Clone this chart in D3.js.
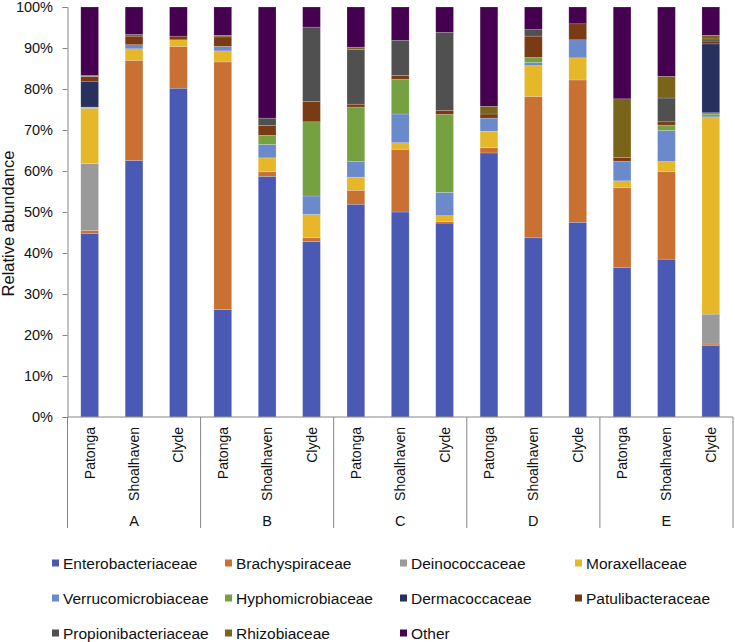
<!DOCTYPE html>
<html>
<head>
<meta charset="utf-8">
<script src="https://cdn.jsdelivr.net/npm/d3@7/dist/d3.min.js"></script>
<style>
  html, body { margin: 0; padding: 0; background: #fff; }
  svg { display: block; font-family: "Liberation Sans", Arial, sans-serif; }
</style>
</head>
<body>
<svg id="chart" width="735" height="642"></svg>
<script>
// ---- Data ----
const groups = ["A", "B", "C", "D", "E"];
const sites = ["Patonga", "Shoalhaven", "Clyde"];
const families = ["Enterobacteriaceae", "Brachyspiraceae", "Deinococcaceae", "Moraxellaceae",
  "Verrucomicrobiaceae", "Hyphomicrobiaceae", "Dermacoccaceae", "Patulibacteraceae",
  "Propionibacteriaceae", "Rhizobiaceae", "Other"];
const colors = ["#4a5ab4", "#c87133", "#9a9a9a", "#e6b829", "#6a8acb", "#76a140",
  "#28305e", "#7a3a14", "#505050", "#7a6419", "#45004f"];
// values in %, order: A-Patonga, A-Shoalhaven, A-Clyde, B-..., ..., E-Clyde
const Enterobacteriaceae   = [44.7, 62.6, 80.2, 26.2, 58.7, 42.8, 51.9, 50.0, 47.3, 64.4, 43.7, 47.5, 36.5, 38.5, 17.5];
const Brachyspiraceae      = [0.8, 24.4, 10.2, 60.4, 1.1, 0.9, 3.4, 15.3, 0.4, 1.3, 34.5, 34.7, 19.4, 21.3, 0.3];
const Deinococcaceae       = [16.3, 0, 0, 0, 0, 0, 0, 0, 0, 0, 0, 0, 0, 0, 7.3];
const Moraxellaceae        = [13.5, 2.8, 1.6, 2.7, 3.4, 5.7, 3.2, 1.6, 1.4, 4.0, 7.5, 5.4, 1.7, 2.5, 48.1];
const Verrucomicrobiaceae  = [0.2, 1.0, 0, 1.1, 3.3, 4.5, 3.8, 7.0, 5.7, 3.2, 0.8, 4.4, 4.8, 7.6, 0.5];
const Hyphomicrobiaceae    = [0.1, 0, 0, 0, 2.2, 18.1, 13.3, 8.5, 19.0, 0, 1.2, 0, 0, 1.3, 0.5];
const Dermacoccaceae       = [6.3, 0, 0, 0, 0, 0, 0, 0, 0, 0, 0, 0, 0, 0, 16.8];
const Patulibacteraceae    = [1.1, 2.1, 0.9, 2.3, 2.4, 5.0, 0.7, 0.9, 1.0, 1.0, 5.2, 3.9, 0.9, 0.8, 0.7];
const Propionibacteriaceae = [0.1, 0, 0, 0, 1.8, 18.1, 13.3, 8.6, 19.0, 0, 1.6, 0, 0, 5.8, 0.5];
const Rhizobiaceae         = [0.2, 0.4, 0, 0.4, 0, 0, 0.6, 0, 0, 1.9, 0, 0, 14.3, 5.3, 0.9];
const Other                = [16.7, 6.7, 7.1, 6.9, 27.1, 4.9, 9.8, 8.1, 6.2, 24.2, 5.5, 4.1, 22.4, 16.9, 6.9];
const yTicks = [0, 10, 20, 30, 40, 50, 60, 70, 80, 90, 100];

const seriesValues = [Enterobacteriaceae, Brachyspiraceae, Deinococcaceae, Moraxellaceae,
  Verrucomicrobiaceae, Hyphomicrobiaceae, Dermacoccaceae, Patulibacteraceae,
  Propionibacteriaceae, Rhizobiaceae, Other];

(function () {
// ---- Build table ----
const rows = [];
groups.forEach((g, gi) => sites.forEach((s, si) => {
  const i = gi * 3 + si;
  const r = { id: g + "-" + s, group: g, site: s };
  families.forEach((f, fi) => r[f] = seriesValues[fi][i]);
  rows.push(r);
}));

const svg = d3.select("#chart");
const mLeft = 67.5, mRight = 733, mTop = 7, mBottom = 417;
const x = d3.scaleBand().domain(rows.map(d => d.id)).range([mLeft, mRight])
  .paddingInner(0.6).paddingOuter(0.3);
const y = d3.scaleLinear().domain([0, 100]).range([mBottom, mTop]);
const color = d3.scaleOrdinal().domain(families).range(colors);

const stacked = d3.stack().keys(families)(rows);

// bars
svg.append("g").selectAll("g").data(stacked).join("g")
  .attr("fill", d => color(d.key))
  .selectAll("rect").data(d => d.filter(p => p[1] - p[0] > 0)).join("rect")
  .attr("x", p => x(p.data.id))
  .attr("width", x.bandwidth())
  .attr("y", p => y(p[1]))
  .attr("height", p => y(p[0]) - y(p[1]))
  .attr("stroke", "#ffffff")
  .attr("stroke-opacity", 0.35)
  .attr("stroke-width", 0.5);

// y axis
const yAxis = svg.append("g").attr("transform", `translate(${mLeft},0)`)
  .call(d3.axisLeft(y).tickValues(yTicks).tickFormat(d => d + "%").tickSize(5).tickPadding(9.5));
yAxis.select(".domain").attr("stroke", "#868686");
yAxis.selectAll(".tick line").attr("stroke", "#868686");
yAxis.selectAll(".tick text").attr("font-size", 14.5).attr("fill", "#111")
  .attr("font-family", "'Liberation Sans', Arial, sans-serif");

svg.append("text")
  .attr("transform", `translate(13.5,223.5) rotate(-90)`)
  .attr("text-anchor", "middle")
  .attr("font-size", 16.5).attr("fill", "#111")
  .text("Relative abundance");

// x axis line
svg.append("line").attr("x1", mLeft).attr("x2", mRight).attr("y1", mBottom).attr("y2", mBottom)
  .attr("stroke", "#868686").attr("stroke-width", 1);

// group separators
const step = x.step();
const sepX = d3.range(groups.length + 1).map(k => mLeft + k * 3 * step);
svg.append("g").selectAll("line").data(sepX).join("line")
  .attr("x1", d => d).attr("x2", d => d)
  .attr("y1", mBottom).attr("y2", 528)
  .attr("stroke", "#868686").attr("stroke-width", 1);

// category labels
svg.append("g").selectAll("text").data(rows).join("text")
  .attr("transform", d => `translate(${x(d.id) + x.bandwidth() / 2},427) rotate(-90)`)
  .attr("text-anchor", "end").attr("dominant-baseline", "central")
  .attr("font-size", 14).attr("fill", "#111")
  .text(d => d.site);

// group labels
svg.append("g").selectAll("text").data(groups).join("text")
  .attr("x", (g, gi) => mLeft + (gi * 3 + 1.5) * step)
  .attr("y", 521).attr("text-anchor", "middle").attr("dominant-baseline", "central")
  .attr("font-size", 14.5).attr("fill", "#111")
  .text(g => g);

// legend
const colX = [52, 225, 400, 575];
const rowY = [563, 598, 633];
const leg = svg.append("g").selectAll("g").data(families).join("g")
  .attr("transform", (f, i) => `translate(${colX[i % 4]},${rowY[Math.floor(i / 4)]})`);
leg.append("rect").attr("x", 0).attr("y", -3.5).attr("width", 7).attr("height", 7)
  .attr("fill", f => color(f));
leg.append("text").attr("x", 11).attr("y", 0).attr("dominant-baseline", "central")
  .attr("font-size", 15.5).attr("fill", "#111").text(f => f);
})();
</script>
</body>
</html>
